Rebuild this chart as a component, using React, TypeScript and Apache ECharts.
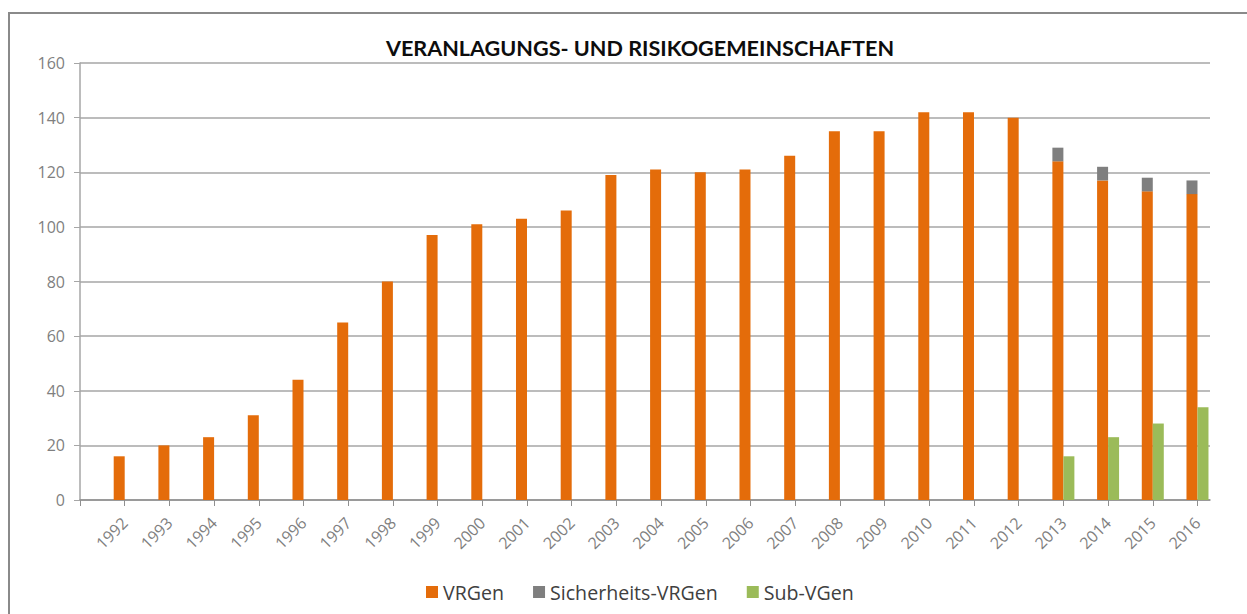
import React, { useEffect, useRef } from 'react';
import * as echarts from 'echarts';

const years = ['1992', '1993', '1994', '1995', '1996', '1997', '1998', '1999', '2000', '2001', '2002', '2003', '2004', '2005', '2006', '2007', '2008', '2009', '2010', '2011', '2012', '2013', '2014', '2015', '2016'];
const vrgen = [16, 20, 23, 31, 44, 65, 80, 97, 101, 103, 106, 119, 121, 120, 121, 126, 135, 135, 142, 142, 140, 124, 117, 113, 112];
const sicherheitsVrgen = [null, null, null, null, null, null, null, null, null, null, null, null, null, null, null, null, null, null, null, null, null, 5, 5, 5, 5];
const subVgen = [null, null, null, null, null, null, null, null, null, null, null, null, null, null, null, null, null, null, null, null, null, 16, 23, 28, 34];
const yTickValues = [0, 20, 40, 60, 80, 100, 120, 140, 160];

const TITLE = 'VERANLAGUNGS- UND RISIKOGEMEINSCHAFTEN';
const FONT = '"Open Sans", sans-serif';

export default function App() {
  const ref = useRef<HTMLDivElement>(null);

  useEffect(() => {
    document.body.style.margin = '0';
    const chart = echarts.init(ref.current as HTMLDivElement, null, { renderer: 'svg' });
    const pos = years.map((_, i) => i + 1);
    // value first so that it is the stacked dimension; encode maps it to y
    const toPairs = (arr: (number | null)[]) => arr.map((v, i) => [v == null ? '-' : v, pos[i]]);

    chart.setOption({
      animation: false,
      backgroundColor: '#ffffff',
      title: {
        text: TITLE,
        left: 635,
        textAlign: 'center',
        top: 32,
        textStyle: { fontFamily: 'Lato, sans-serif', fontWeight: 'bold', fontSize: 21.6, color: '#0d0d0d' },
      },
      legend: {
        left: 421,
        top: 577,
        itemWidth: 12,
        itemHeight: 12,
        itemGap: 29,
        icon: 'rect',
        textStyle: { fontFamily: FONT, fontSize: 19.6, color: '#404040' },
        data: ['VRGen', 'Sicherheits-VRGen', 'Sub-VGen'],
      },
      grid: { left: 80, right: 37, top: 63, bottom: 114, containLabel: false },
      xAxis: {
        type: 'value',
        min: 0,
        max: 25.28,
        interval: 1,
        splitLine: { show: false },
        axisLine: { show: true, lineStyle: { color: '#8f8f8f', width: 1.5 } },
        axisTick: { show: true, length: 6, lineStyle: { color: '#8f8f8f' }, customValues: [0, ...pos] },
        axisLabel: {
          customValues: pos,
          rotate: 45,
          margin: 20,
          fontFamily: FONT,
          fontSize: 16,
          color: '#7f7f7f',
          formatter: (v: number) => {
            const i = Math.round(v) - 1;
            return Math.abs(v - Math.round(v)) < 1e-6 && i >= 0 && i < years.length ? years[i] : '';
          },
        },
      },
      yAxis: {
        type: 'value',
        min: 0,
        max: 160,
        interval: 20,
        axisLine: { show: true, lineStyle: { color: '#a6a6a6', width: 1.5 } },
        axisTick: { show: true, length: 6, lineStyle: { color: '#a6a6a6' } },
        splitLine: { show: true, lineStyle: { color: '#a6a6a6', width: 1.5 } },
        axisLabel: {
          margin: 15,
          fontFamily: FONT,
          fontSize: 16,
          color: '#7f7f7f',
          formatter: (v: number) => (yTickValues.includes(v) ? String(v) : ''),
        },
      },
      series: [
        {
          name: 'VRGen',
          type: 'bar',
          stack: 'vr',
          barWidth: 11,
          barGap: '0%',
          encode: { x: 1, y: 0 },
          itemStyle: { color: '#e46c0a' },
          data: toPairs(vrgen),
        },
        {
          name: 'Sicherheits-VRGen',
          type: 'bar',
          stack: 'vr',
          barWidth: 11,
          barGap: '0%',
          encode: { x: 1, y: 0 },
          itemStyle: { color: '#7f7f7f' },
          data: toPairs(sicherheitsVrgen),
        },
        {
          name: 'Sub-VGen',
          type: 'bar',
          barWidth: 11,
          barGap: '0%',
          encode: { x: 1, y: 0 },
          itemStyle: { color: '#9bbb59' },
          data: toPairs(subVgen),
        },
      ],
      graphic: [
        {
          type: 'rect',
          silent: true,
          z: -10,
          shape: { x: 9, y: 13, width: 1300, height: 700 },
          style: { fill: 'none', stroke: '#8a8a8a', lineWidth: 2 },
        },
      ],
    });

    return () => chart.dispose();
  }, []);

  return <div ref={ref} style={{ width: 1247, height: 614 }} />;
}
